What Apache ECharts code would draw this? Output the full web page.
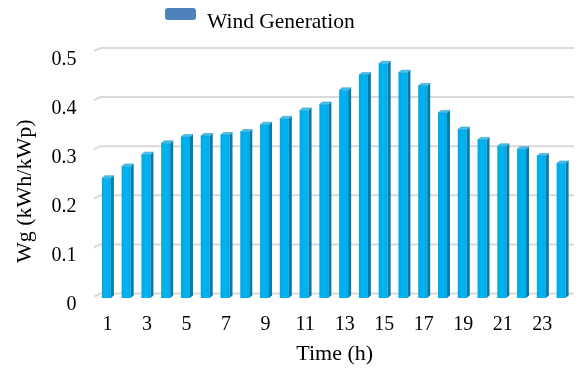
<!DOCTYPE html>
<html>
<head>
<meta charset="utf-8">
<script src="https://cdn.jsdelivr.net/npm/echarts@6/dist/echarts.min.js"></script>
<style>html,body{margin:0;padding:0;background:#fff}#c{width:580px;height:370px}</style>
</head>
<body>
<div id="c"></div>
<script>
const hours = ['1','2','3','4','5','6','7','8','9','10','11','12','13','14','15','16','17','18','19','20','21','22','23','24'];
const windGeneration = [0.244,0.268,0.292,0.315,0.328,0.330,0.332,0.338,0.353,0.365,0.382,0.394,0.423,0.454,0.477,0.459,0.432,0.377,0.343,0.322,0.309,0.303,0.289,0.274];
const yTicks = [0,0.1,0.2,0.3,0.4,0.5];
const seriesName = 'Wind Generation';
const FONT = "'Liberation Serif','Times New Roman',serif";

const chart = echarts.init(document.getElementById('c'), null, {renderer:'canvas'});
chart.setOption({
  animation:false,
  backgroundColor:'#fff',
  legend:{
    left:165, top:8, padding:0,
    itemWidth:31, itemHeight:28, itemGap:12,
    data:[{name:seriesName, icon:'path://M3,0 H28 Q31,0 31,3 V9 Q31,12 28,12 H3 Q0,12 0,9 V3 Q0,0 3,0 Z M15,27.9 H15.1 V28 H15 Z'}],
    itemStyle:{color:'#4F81BD'},
    textStyle:{fontFamily:FONT, fontSize:21.5, color:'#000', padding:[0,0,0,6]}
  },
  grid:{left:97.5, right:8, top:52.5, bottom:69},
  xAxis:{
    type:'category', data:hours, boundaryGap:true,
    axisLine:{show:false}, axisTick:{show:false},
    axisLabel:{interval:1, fontFamily:FONT, fontSize:20, color:'#000', margin:17},
    name:'Time (h)', nameLocation:'middle', nameGap:45,
    nameTextStyle:{fontFamily:FONT, fontSize:22, color:'#000'}
  },
  yAxis:{
    type:'value', min:0, max:0.5, interval:0.1,
    axisLine:{show:false}, axisTick:{show:false}, splitLine:{show:false},
    axisLabel:{fontFamily:FONT, fontSize:20, color:'#000', margin:21, verticalAlign:'top', lineHeight:14},
    name:'Wg (kWh/kWp)', nameLocation:'middle', nameGap:61,
    nameTextStyle:{fontFamily:FONT, fontSize:22, color:'#000', padding:[0,32,0,0]}
  },
  series:[
    {
      type:'custom', name:'grid', silent:true, z:1,
      data: yTicks.map(t => [0, t]),
      renderItem:function(params, api){
        const y = api.coord([0, api.value(1)])[1];
        const cs = params.coordSys;
        return {type:'polyline', shape:{points:[[cs.x-3.5, y-1.5],[cs.x+3, y-4.5],[cs.x+cs.width+2, y-4.5]]},
          style:{stroke:'#D9D9D9', lineWidth:2, fill:null}};
      }
    },
    {
      type:'custom', name:seriesName, z:2,
      itemStyle:{color:'#4F81BD'},
      data: windGeneration.map((v,i) => [i, v]),
      renderItem:function(params, api){
        const top = api.coord([api.value(0), api.value(1)]);
        const base = api.coord([api.value(0), 0]);
        const fw = 9, sd = 3, up = 2.5;
        const cx = top[0] - 1;
        const x0 = cx - fw/2, x1 = cx + fw/2;
        return {type:'group', children:[
          {type:'rect', shape:{x:x0, y:top[1], width:fw, height:base[1]-top[1]},
            style:{fill:new echarts.graphic.LinearGradient(0,0,1,0,[{offset:0,color:'#00A8E8'},{offset:0.5,color:'#00B4F2'},{offset:1,color:'#00ACEB'}])}},
          {type:'polygon', shape:{points:[[x1,top[1]],[x1+sd,top[1]-up],[x1+sd,base[1]-up],[x1,base[1]]]},
            style:{fill:'#0A7BA6'}},
          {type:'polygon', shape:{points:[[x0,top[1]],[x0+sd,top[1]-up],[x1+sd,top[1]-up],[x1,top[1]]]},
            style:{fill:'#45C3F0', stroke:'#1A8FBF', lineWidth:0.5}}
        ]};
      }
    }
  ]
});
</script>
</body>
</html>
